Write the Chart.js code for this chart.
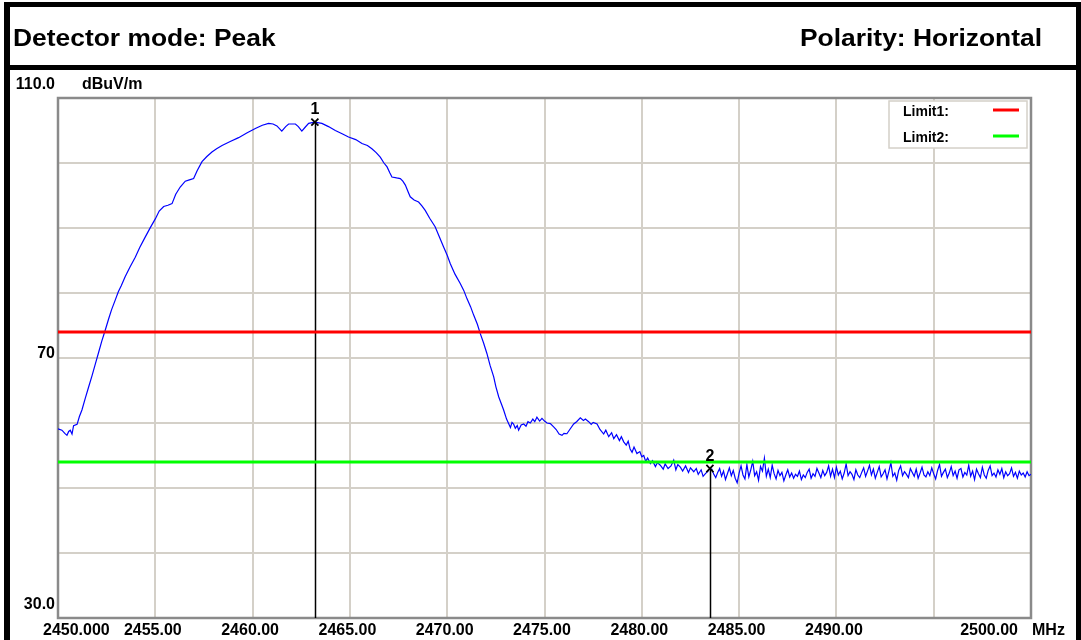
<!DOCTYPE html>
<html>
<head>
<meta charset="utf-8">
<script src="https://cdn.jsdelivr.net/npm/chart.js@4.4.1/dist/chart.umd.min.js"></script>
<style>
  body { margin: 0; background: #fff; width: 1081px; height: 640px; overflow: hidden; position: relative; font-family: "Liberation Sans", Arial, sans-serif; }
  #chart { position: absolute; left: 0; top: 0; }
  .bar { position: absolute; background: #000; }
  .hdr { position: absolute; font-weight: bold; font-size: 24px; line-height: 24px; white-space: nowrap; }
</style>
</head>
<body>
<canvas id="chart" width="1081" height="640"></canvas>
<div class="bar" style="left:4px;top:2px;width:1077px;height:5px"></div>
<div class="bar" style="left:4px;top:65px;width:1077px;height:5px"></div>
<div class="bar" style="left:4px;top:2px;width:6px;height:638px"></div>
<div class="bar" style="left:1076px;top:2px;width:5px;height:638px"></div>
<div class="hdr" style="left:13px;top:26px;transform:scaleX(1.1);transform-origin:left">Detector mode: Peak</div>
<div class="hdr" style="right:39px;top:26px;transform:scaleX(1.1);transform-origin:right">Polarity: Horizontal</div>
<script>
// axis ranges and labels
const freqMin = 2450, freqMax = 2500;
const levelMin = 30, levelMax = 110;
const xTickValues = [2450, 2455, 2460, 2465, 2470, 2475, 2480, 2485, 2490, 2495, 2500];
const xTickLabels = ['2450.000', '2455.00', '2460.00', '2465.00', '2470.00', '2475.00', '2480.00', '2485.00', '2490.00', '', '2500.00'];
const yTickValues = [110, 70, 30];
const yTickLabels = ['110.0', '70', '30.0'];
const xUnit = 'MHz';
const yUnit = 'dBuV/m';

// limits
const limit1 = 74;
const limit2 = 54;

// markers
const markerFreq = [2463.2, 2483.5];
const markerLevel = [106.3, 53.0];
const markerNames = ['1', '2'];

// trace (MHz / dBuV/m)
const traceFreq = [
  2450.0, 2450.2, 2450.35, 2450.46, 2450.55, 2450.63, 2450.72, 2450.8, 2450.98, 2451.1,
  2451.23, 2451.4, 2451.57, 2451.75, 2451.92, 2452.1, 2452.25, 2452.43, 2452.6, 2452.75,
  2452.94, 2453.1, 2453.25, 2453.45, 2453.7, 2453.97, 2454.2, 2454.48, 2454.75, 2455.0,
  2455.2, 2455.43, 2455.65, 2455.86, 2456.05, 2456.28, 2456.54, 2456.75, 2456.97, 2457.15,
  2457.4, 2457.65, 2457.91, 2458.15, 2458.43, 2458.85, 2459.28, 2459.7, 2460.14, 2460.5,
  2460.82, 2461.05, 2461.25, 2461.5, 2461.7, 2461.85, 2462.2, 2462.35, 2462.53, 2462.7,
  2462.88, 2463.19, 2463.56, 2463.9, 2464.25, 2464.6, 2464.93, 2465.3, 2465.62, 2465.9,
  2466.13, 2466.35, 2466.56, 2466.75, 2466.91, 2467.05, 2467.16, 2467.4, 2467.59, 2467.72,
  2467.85, 2468.0, 2468.1, 2468.3, 2468.53, 2468.7, 2468.87, 2469.1, 2469.38, 2469.6,
  2469.81, 2470.0, 2470.16, 2470.4, 2470.67, 2470.85, 2471.02, 2471.2, 2471.36, 2471.55,
  2471.7, 2471.87, 2472.04, 2472.2, 2472.39, 2472.5, 2472.65, 2472.8, 2472.9, 2473.05,
  2473.16, 2473.25, 2473.33, 2473.41, 2473.5, 2473.6, 2473.67, 2473.8, 2473.93, 2474.05,
  2474.15, 2474.27, 2474.4, 2474.5, 2474.61, 2474.75, 2474.87, 2475.0, 2475.13, 2475.3,
  2475.47, 2475.6, 2475.75, 2475.9, 2476.0, 2476.15, 2476.3, 2476.5, 2476.65, 2476.84,
  2477.0, 2477.1, 2477.27, 2477.4, 2477.5, 2477.7, 2477.85, 2478.04, 2478.15, 2478.3,
  2478.45, 2478.56, 2478.7, 2478.85, 2478.95, 2479.07, 2479.2, 2479.3, 2479.4, 2479.5,
  2479.6, 2479.75, 2479.9, 2480.0, 2480.1, 2480.2, 2480.3, 2480.44, 2480.55, 2480.7,
  2480.8, 2480.95, 2481.1, 2481.2, 2481.35, 2481.5, 2481.64, 2481.75, 2481.85, 2481.98,
  2482.1, 2482.25, 2482.4, 2482.5, 2482.67, 2482.8, 2482.9, 2483.05, 2483.15, 2483.27,
  2483.4, 2483.5
];
const traceLevel = [
  59.1, 58.9, 58.4, 58.1, 58.7, 58.9, 58.3, 59.6, 59.8, 61.0,
  62.0, 63.8, 65.5, 67.3, 69.1, 71.0, 72.6, 74.3, 76.0, 77.4,
  78.9, 80.2, 81.1, 82.5, 84.0, 85.5, 87.0, 88.6, 90.1, 91.4,
  92.6, 93.3, 93.5, 93.75, 95.2, 96.3, 97.2, 97.4, 97.6, 98.8,
  100.2, 101.0, 101.7, 102.2, 102.7, 103.3, 103.9, 104.6, 105.3, 105.8,
  106.1, 106.0, 105.7, 104.9, 105.6, 106.0, 106.0, 105.6, 104.9, 105.5,
  106.1, 106.3, 106.1, 105.6, 105.0, 104.5, 104.0, 103.6, 103.0, 102.7,
  102.2, 101.6, 100.9, 100.0, 99.4, 98.5, 97.85, 97.7, 97.6, 97.2,
  96.6, 95.5, 94.8, 94.3, 94.0, 93.4, 92.7, 91.5, 90.2, 88.6,
  87.1, 85.8, 84.5, 82.9, 81.45, 80.4, 79.1, 77.9, 76.6, 75.2,
  73.75, 72.3, 70.7, 68.9, 67.1, 65.6, 64.0, 62.8, 62.0, 60.6,
  59.9, 59.3, 60.1, 59.85, 59.2, 59.6, 58.9, 59.7, 59.85, 59.5,
  60.2, 60.0, 60.6, 60.2, 60.9, 60.3, 60.7, 60.3, 60.0, 59.9,
  59.4, 59.0, 58.3, 58.1, 58.4, 58.35, 59.0, 59.85, 60.2, 60.8,
  60.4, 60.6, 60.2, 59.8, 60.1, 59.85, 59.0, 58.3, 58.9, 57.9,
  58.5, 57.6, 58.2, 57.3, 57.9, 57.1, 56.6, 57.2, 56.0, 55.5,
  56.3, 55.3, 55.6, 54.8, 55.0, 54.1, 54.6, 53.75, 54.2, 53.3,
  53.9, 53.5, 52.9, 53.7, 53.0, 53.4, 54.3, 52.8, 53.6, 53.2,
  52.6, 53.4, 52.4, 53.1, 52.5, 53.0, 52.1, 52.8, 51.8, 52.2,
  52.6, 53.0
];

// noise floor after the band edge, one reading every 0.1 MHz from 2483.6 MHz
const floorStart = 2483.6;
const floorStep = 0.1;
const floorLevel = [
  52.9, 52.1, 51.6, 52.4, 53.0, 51.8, 52.6, 51.3, 52.2, 53.1,
  51.9, 52.7, 51.5, 50.8, 52.3, 53.4, 52.0, 51.4, 53.6, 51.7,
  52.8, 54.1, 51.9, 52.5, 51.2, 53.3, 52.6, 54.6, 51.8, 52.9,
  51.6, 53.5, 52.2, 51.4, 52.7, 51.9, 52.4, 51.1, 52.0, 52.8,
  51.7, 52.3, 51.5, 52.1, 51.8, 52.6, 51.3, 52.0, 51.6, 52.4,
  52.9, 51.5, 52.2, 51.8, 53.0, 52.3, 51.6, 52.7, 51.9, 52.4,
  53.4, 51.8, 52.9, 51.6, 53.2, 52.0, 52.6, 51.4, 52.3, 53.7,
  51.9, 52.5, 52.1, 51.3, 52.8, 52.0, 51.6, 52.4, 53.1, 51.8,
  52.6, 53.5, 52.0, 52.9, 51.5, 52.4, 53.3, 51.7, 52.2, 52.8,
  51.4, 52.6, 53.9, 51.8, 52.3, 51.2, 52.7, 53.4, 51.9, 52.5,
  52.1, 51.6, 53.0, 52.4, 51.8, 52.9, 51.5, 52.3, 53.2, 52.0,
  51.7, 52.5, 51.9, 53.1, 52.2, 51.4, 52.7, 53.6, 51.8, 52.4,
  52.9, 51.6, 52.3, 53.3, 51.9, 52.6, 51.5, 52.8, 53.0, 51.7,
  52.4, 52.0, 53.5, 51.8, 52.6, 51.3, 52.9, 52.2, 51.6, 53.2,
  52.0, 51.5, 52.7, 53.4, 51.9, 52.3, 51.7, 52.8, 52.1, 53.0,
  51.6, 52.5, 51.9, 52.2, 53.1, 51.8, 52.4, 51.5, 52.6, 52.0,
  52.3, 51.7, 52.5, 51.9, 52.1
];

const gridColor = '#d4d0c8';
const labelFont = 'bold 16px "Liberation Sans", Arial, sans-serif';

const tracePoints = traceFreq.map((f, i) => ({ x: f, y: traceLevel[i] }))
  .concat(floorLevel.map((v, i) => ({ x: floorStart + i * floorStep, y: v })));

const textPlugin = {
  id: 'emiText',
  beforeDatasetsDraw(chart) {
    const { ctx, chartArea: a, scales: { x, y } } = chart;
    ctx.save();
    // plot frame
    ctx.strokeStyle = '#8a8a8a';
    ctx.lineWidth = 2.5;
    ctx.strokeRect(a.left, a.top, a.right - a.left, a.bottom - a.top);
    // marker stems
    ctx.strokeStyle = '#000';
    ctx.lineWidth = 1.5;
    markerFreq.forEach((f, i) => {
      const px = Math.round(x.getPixelForValue(f)) + 0.5;
      ctx.beginPath();
      ctx.moveTo(px, y.getPixelForValue(markerLevel[i]));
      ctx.lineTo(px, a.bottom);
      ctx.stroke();
    });
    ctx.restore();
  },
  afterDatasetsDraw(chart) {
    const { ctx, chartArea: a, scales: { x, y } } = chart;
    ctx.save();
    ctx.font = labelFont;
    ctx.fillStyle = '#000';

    // marker numbers
    ctx.textAlign = 'center';
    markerFreq.forEach((f, i) => {
      ctx.fillText(markerNames[i], x.getPixelForValue(f), y.getPixelForValue(markerLevel[i]) - 8);
    });

    // legend box
    const bx = a.right - 142, by = a.top + 3, bw = 138, bh = 47;
    ctx.fillStyle = '#fff';
    ctx.fillRect(bx, by, bw, bh);
    ctx.strokeStyle = gridColor;
    ctx.lineWidth = 1.5;
    ctx.strokeRect(bx, by, bw, bh);
    ctx.font = 'bold 14px "Liberation Sans", Arial, sans-serif';
    ctx.textAlign = 'left';
    const limits = chart.data.datasets.filter(d => d.isLimit);
    limits.forEach((d, i) => {
      const ly = by + 15 + i * 26;
      ctx.fillStyle = '#000';
      ctx.fillText(d.label, bx + 14, ly);
      ctx.strokeStyle = d.borderColor;
      ctx.lineWidth = 3;
      ctx.beginPath();
      ctx.moveTo(bx + 104, ly - 6);
      ctx.lineTo(bx + 130, ly - 6);
      ctx.stroke();
    });
    ctx.restore();
  },
  afterDraw(chart) {
    const { ctx, chartArea: a, scales: { x, y } } = chart;
    ctx.save();
    ctx.font = labelFont;
    ctx.fillStyle = '#000';

    // y labels
    ctx.textAlign = 'right';
    yTickValues.forEach((v, i) => {
      const edge = (v === levelMax || v === levelMin);
      ctx.fillText(yTickLabels[i], 55, y.getPixelForValue(v) + (edge ? -9 : 0));
    });
    ctx.textAlign = 'left';
    ctx.fillText(yUnit, 82, y.getPixelForValue(levelMax) - 9);

    // x labels
    const base = a.bottom + 17;
    xTickValues.forEach((v, i) => {
      const px = x.getPixelForValue(v);
      if (i === 0) {
        ctx.textAlign = 'left';
        ctx.fillText(xTickLabels[i], px - 15, base);
      } else if (i === xTickValues.length - 1) {
        ctx.textAlign = 'right';
        ctx.fillText(xTickLabels[i], px - 13, base);
        ctx.textAlign = 'left';
        ctx.fillText(xUnit, px + 1, base);
      } else {
        ctx.textAlign = 'center';
        ctx.fillText(xTickLabels[i], px - 2.5, base);
      }
    });
    ctx.restore();
  }
};

new Chart(document.getElementById('chart'), {
  type: 'line',
  data: {
    datasets: [
      {
        label: 'Markers',
        data: markerFreq.map((f, i) => ({ x: f, y: markerLevel[i] })),
        showLine: false,
        pointStyle: 'crossRot',
        pointRadius: 5,
        pointBorderColor: '#000',
        pointBorderWidth: 1.8,
        borderColor: '#000'
      },
      {
        label: 'Limit1:',
        isLimit: true,
        data: [{ x: freqMin, y: limit1 }, { x: freqMax, y: limit1 }],
        borderColor: '#ff0000',
        borderWidth: 3,
        pointRadius: 0
      },
      {
        label: 'Limit2:',
        isLimit: true,
        data: [{ x: freqMin, y: limit2 }, { x: freqMax, y: limit2 }],
        borderColor: '#00ff00',
        borderWidth: 3,
        pointRadius: 0
      },
      {
        label: 'Peak',
        data: tracePoints,
        borderColor: '#0000ff',
        borderWidth: 1.2,
        pointRadius: 0,
        tension: 0
      }
    ]
  },
  options: {
    responsive: false,
    animation: false,
    devicePixelRatio: 1,
    layout: { padding: { left: 58, top: 98, right: 50, bottom: 22 } },
    plugins: { legend: { display: false }, tooltip: { enabled: false } },
    scales: {
      x: {
        type: 'linear',
        min: freqMin,
        max: freqMax,
        ticks: { display: false, stepSize: 5 },
        grid: { color: gridColor, lineWidth: 2, drawTicks: false },
        border: { display: false }
      },
      y: {
        min: levelMin,
        max: levelMax,
        ticks: { display: false, stepSize: 10 },
        grid: { color: gridColor, lineWidth: 2, drawTicks: false },
        border: { display: false }
      }
    }
  },
  plugins: [textPlugin]
});
</script>
</body>
</html>
